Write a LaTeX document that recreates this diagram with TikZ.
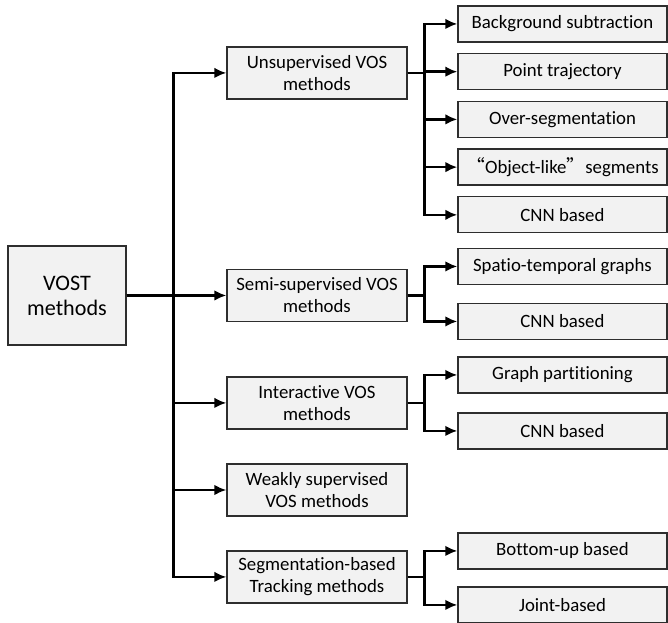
\documentclass[tikz,border=0pt]{standalone}
\usepackage{fontspec}
\setmainfont{Carlito}[Ligatures=NoCommon]
\newfontfamily\cjk{Noto Sans CJK SC}
\usetikzlibrary{shapes,arrows,arrows.meta}
\definecolor{fundal}{HTML}{F2F2F2}
\definecolor{contur}{HTML}{2E2E2E}

\begin{document}
\begin{tikzpicture}[auto, node distance=1cm,>={Latex[length=9pt,width=8pt]}, line width=2pt]
  \tikzset{
    bloc/.style={draw=contur, line width=0.95pt, fill=fundal, rectangle, align=center, inner sep=1pt, font=\fontsize{14.1}{16.5}\selectfont},
    metoda/.style={bloc, minimum width=135pt, minimum height=39pt},
    frunza/.style={bloc, minimum width=156.75pt, minimum height=27pt}
  }
  \useasboundingbox (-50.25pt,-245.6pt) rectangle (450.75pt,221.6pt);

      % Componenta initiala
      \node [bloc, minimum width=88.5pt, minimum height=74.25pt, font=\fontsize{16.6}{18.8}\selectfont] (vost) {VOST\\methods};

      % Metode
      \node [metoda, right of=vost, node distance=187.5pt, yshift=166.9pt] (metoda1) {Unsupervised VOS\\methods};
      \node [metoda, right of=vost, node distance=187.5pt] (metoda2) {Semi-supervised VOS\\methods};
      \node [metoda, right of=vost, node distance=187.5pt, yshift=-80.6pt] (metoda3) {Interactive VOS\\methods};
      \node [metoda, right of=vost, node distance=187.5pt, yshift=-145.9pt] (metoda4) {Weakly supervised\\VOS methods};
      \node [metoda, right of=vost, node distance=187.5pt, yshift=-211.1pt] (metoda5) {Segmentation-based\\Tracking methods};

      % Subcategorii
      \node [frunza, right of=metoda1, node distance=184.1pt, yshift=36.75pt] (frunza11) {Background subtraction};
      \node [frunza, below of=frunza11, node distance=35.8pt] (frunza12) {Point trajectory};
      \node [frunza, below of=frunza12, node distance=35.8pt] (frunza13) {Over-segmentation};
      \node [frunza, below of=frunza13, node distance=35.8pt] (frunza14) {{\cjk “}Object-like{\cjk ”}segments};
      \node [frunza, below of=frunza14, node distance=35.8pt] (frunza15) {CNN based};

      \node [frunza, right of=metoda2, node distance=184.1pt, yshift=21.75pt] (frunza21) {Spatio-temporal graphs};
      \node [frunza, below of=frunza21, node distance=41.25pt] (frunza22) {CNN based};

      \node [frunza, right of=metoda3, node distance=184.1pt, yshift=21pt] (frunza31) {Graph partitioning};
      \node [frunza, below of=frunza31, node distance=42pt] (frunza32) {CNN based};

      \node [frunza, right of=metoda5, node distance=184.1pt, yshift=19.5pt] (frunza51) {Bottom-up based};
      \node [frunza, below of=frunza51, node distance=40.5pt] (frunza52) {Joint-based};

      % Linii de legatura
      \draw [->] (vost.east) -- ++(35.25pt,0) |- (metoda1);
      \draw [->] (vost.east) -- ++(35.25pt,0) |- (metoda2);
      \draw [->] (vost.east) -- ++(35.25pt,0) |- (metoda3);
      \draw [->] (vost.east) -- ++(35.25pt,0) |- (metoda4);
      \draw [->] (vost.east) -- ++(35.25pt,0) |- (metoda5);

      \draw [->] (metoda1.east) -- ++(12.4pt,0) |- (frunza11);
      \draw [->] (metoda1.east) -- ++(12.4pt,0) |- (frunza12);
      \draw [->] (metoda1.east) -- ++(12.4pt,0) |- (frunza13);
      \draw [->] (metoda1.east) -- ++(12.4pt,0) |- (frunza14);
      \draw [->] (metoda1.east) -- ++(12.4pt,0) |- (frunza15);

      \draw [->] (metoda2.east) -- ++(12.4pt,0) |- (frunza21);
      \draw [->] (metoda2.east) -- ++(12.4pt,0) |- (frunza22);

      \draw [->] (metoda3.east) -- ++(12.4pt,0) |- (frunza31);
      \draw [->] (metoda3.east) -- ++(12.4pt,0) |- (frunza32);

      \draw [->] (metoda5.east) -- ++(12.4pt,0) |- (frunza51);
      \draw [->] (metoda5.east) -- ++(12.4pt,0) |- (frunza52);

    \end{tikzpicture}
\end{document}
